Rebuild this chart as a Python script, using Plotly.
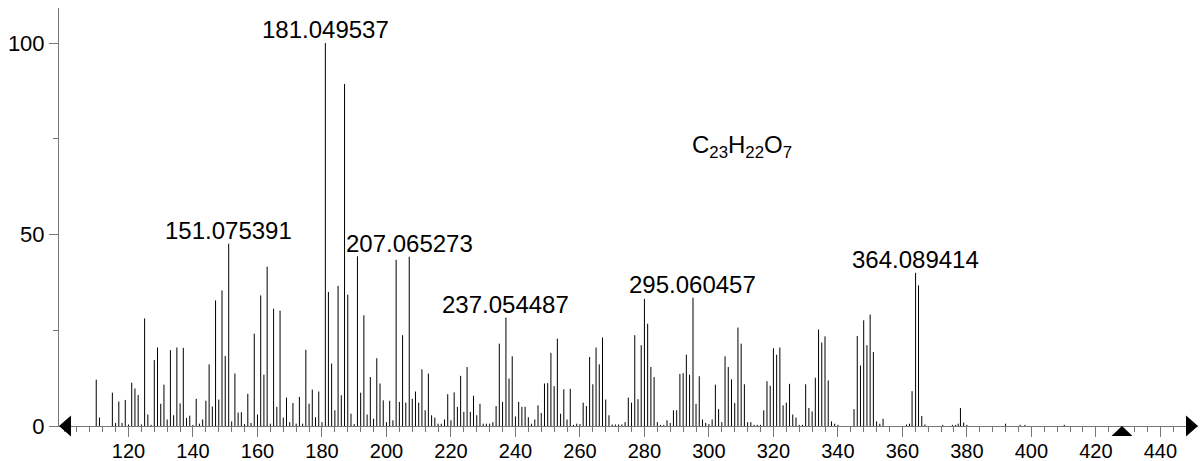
import plotly.graph_objects as go

# ---- data: (m/z, relative intensity) ----
mz = [
    110.0, 111.0, 115.0, 116.0, 117.0, 118.0, 119.0, 120.0, 121.0, 122.0,
    123.0, 124.0, 125.0, 126.0, 127.0, 128.0, 129.0, 130.0, 131.0, 132.0,
    133.0, 134.0, 135.0, 136.0, 137.0, 138.0, 139.0, 140.0, 141.0, 142.0,
    143.0, 144.0, 145.0, 146.0, 147.0, 148.0, 149.0, 150.0, 151.075391, 152.0,
    153.0, 154.0, 155.0, 156.0, 157.0, 158.0, 159.0, 160.0, 161.0, 162.0,
    163.0, 164.0, 165.0, 166.0, 167.0, 168.0, 169.0, 170.0, 171.0, 172.0,
    173.0, 174.0, 175.0, 176.0, 177.0, 178.0, 179.0, 180.0, 181.049537, 182.0,
    183.0, 184.0, 185.0, 186.0, 187.0, 188.0, 189.0, 190.0, 191.0, 192.0,
    193.0, 194.0, 195.0, 196.0, 197.0, 198.0, 199.0, 200.0, 201.0, 202.0,
    203.0, 204.0, 205.0, 206.0, 207.065273, 208.0, 209.0, 210.0, 211.0, 212.0,
    213.0, 214.0, 215.0, 216.0, 217.0, 218.0, 219.0, 220.0, 221.0, 222.0,
    223.0, 224.0, 225.0, 226.0, 227.0, 228.0, 229.0, 230.0, 231.0, 232.0,
    233.0, 234.0, 235.0, 236.0, 237.054487, 238.0, 239.0, 240.0, 241.0, 242.0,
    243.0, 244.0, 245.0, 246.0, 247.0, 248.0, 249.0, 250.0, 251.0, 252.0,
    253.0, 254.0, 255.0, 256.0, 257.0, 258.0, 259.0, 260.0, 261.0, 262.0,
    263.0, 264.0, 265.0, 266.0, 267.0, 268.0, 269.0, 270.0, 271.0, 272.0,
    273.0, 274.0, 275.0, 276.0, 277.0, 278.0, 279.0, 280.0, 281.0, 282.0,
    283.0, 284.0, 285.0, 286.0, 287.0, 288.0, 289.0, 290.0, 291.0, 292.0,
    293.0, 294.0, 295.060457, 296.0, 297.0, 298.0, 299.0, 300.0, 301.0, 302.0,
    303.0, 304.0, 305.0, 306.0, 307.0, 308.0, 309.0, 310.0, 311.0, 312.0,
    313.0, 314.0, 315.0, 316.0, 317.0, 318.0, 319.0, 320.0, 321.0, 322.0,
    323.0, 324.0, 325.0, 326.0, 327.0, 328.0, 329.0, 330.0, 331.0, 332.0,
    333.0, 334.0, 335.0, 336.0, 337.0, 338.0, 339.0, 340.0, 345.0, 346.0,
    347.0, 348.0, 349.0, 350.0, 351.0, 352.0, 353.0, 354.0, 361.3, 362.2,
    363.0, 364.089414, 365.0, 366.0, 367.0, 372.5, 375.5, 376.5, 377.3, 378.0,
    379.0, 380.0, 392.0, 396.5, 398.0, 410.2,
]
intensity = [
    12.1, 2.2, 8.7, 0.8, 6.4, 0.8, 6.8, 0.4, 11.3, 9.8,
    8.1, 0.4, 28.1, 3.0, 0.3, 17.2, 20.5, 5.8, 10.8, 1.7,
    19.8, 2.8, 20.5, 5.9, 20.4, 2.1, 2.7, 0.3, 7.1, 0.6,
    1.7, 6.6, 16.1, 5.1, 32.8, 6.9, 35.4, 18.3, 47.6, 1.2,
    13.7, 3.5, 3.6, 0.5, 8.4, 0.8, 24.1, 3.0, 34.1, 13.4,
    41.6, 0.6, 30.6, 5.0, 30.1, 2.2, 7.4, 1.0, 6.0, 0.6,
    7.6, 0.6, 19.9, 5.8, 9.5, 2.3, 9.0, 1.0, 100.0, 35.0,
    16.3, 4.1, 36.6, 8.0, 89.3, 34.3, 3.2, 0.5, 44.3, 8.7,
    28.9, 3.0, 12.8, 1.9, 17.7, 11.1, 6.7, 1.0, 6.6, 1.5,
    43.4, 6.3, 23.7, 6.1, 44.2, 7.1, 9.0, 6.1, 14.8, 4.1,
    13.7, 2.8, 2.2, 0.6, 0.6, 1.7, 8.3, 1.5, 8.8, 5.0,
    13.1, 3.7, 15.4, 3.7, 7.9, 2.8, 5.8, 0.6, 0.6, 0.6,
    1.0, 5.2, 21.5, 6.3, 28.3, 12.4, 18.2, 2.5, 6.3, 5.0,
    5.0, 2.3, 0.6, 1.7, 5.4, 3.4, 11.1, 11.2, 19.1, 10.4,
    22.8, 3.2, 9.6, 1.7, 9.7, 0.3, 0.6, 0.5, 6.1, 5.2,
    18.0, 10.9, 20.5, 16.1, 23.1, 6.9, 2.8, 0.4, 0.4, 0.4,
    0.4, 1.0, 7.4, 6.1, 23.7, 7.0, 21.1, 33.2, 26.7, 15.4,
    12.8, 1.0, 0.3, 0.3, 1.5, 0.8, 4.1, 4.1, 13.6, 13.8,
    18.6, 13.4, 33.5, 5.8, 13.0, 1.7, 0.8, 0.5, 1.7, 10.8,
    4.4, 1.0, 18.2, 15.4, 12.2, 6.0, 25.7, 21.5, 10.9, 1.0,
    1.0, 0.3, 0.3, 0.3, 4.1, 11.7, 10.5, 20.3, 18.6, 20.5,
    5.4, 6.1, 11.0, 3.0, 2.2, 0.3, 0.3, 10.9, 4.7, 3.8,
    12.6, 25.2, 21.8, 23.4, 11.9, 1.2, 0.6, 0.3, 4.4, 23.5,
    15.8, 27.6, 21.1, 29.1, 19.3, 1.2, 0.6, 1.9, 0.4, 0.6,
    9.1, 40.0, 36.7, 2.6, 0.4, 0.3, 0.3, 0.3, 0.6, 4.7,
    0.9, 0.3, 0.6, 0.3, 0.3, 0.3,
]
labeled_mz = [151.075391, 181.049537, 207.065273, 237.054487, 295.060457, 364.089414]
precursor_mz = 428.1
formula = "C<sub>23</sub>H<sub>22</sub>O<sub>7</sub>"
x_ticks = [120, 140, 160, 180, 200, 220, 240, 260, 280, 300, 320, 340, 360, 380, 400, 420, 440]
y_ticks = [0, 50, 100]
x_range = [98.45, 451.67]
y_range = [0, 109.14]

FONT = "Liberation Sans, Arial, Helvetica, sans-serif"
AXIS_COLOR = "#777777"

# stick spectrum as vertical segments
xs, ys = [], []
for m, v in zip(mz, intensity):
    xs += [m, m, None]
    ys += [0, v, None]

fig = go.Figure()
fig.add_trace(go.Scatter(x=xs, y=ys, mode="lines",
                         line=dict(color="black", width=1),
                         hoverinfo="skip", showlegend=False))

annotations = []
for m in labeled_mz:
    v = intensity[mz.index(m)]
    annotations.append(dict(x=m, y=v, text=f"{m:.6f}", showarrow=False,
                            xanchor="center", yanchor="bottom", yshift=-2,
                            font=dict(family=FONT, size=24, color="black")))
annotations.append(dict(x=310.3, y=73, text=formula, showarrow=False,
                        xanchor="center", yanchor="middle",
                        font=dict(family=FONT, size=24, color="black")))

pw = 1200 - 59 - 2
ph = 461 - 8 - 35
ax_len = 12 / pw
ax_half = 10.5 / ph
shapes = [
    # left arrow head
    dict(type="path", xref="paper", yref="paper", layer="above",
         path=f"M 0,0 L {ax_len},{ax_half} L {ax_len},{-ax_half} Z",
         fillcolor="black", line=dict(width=0)),
    # right arrow head
    dict(type="path", xref="paper", yref="paper", layer="above",
         path=f"M 1,0 L {1-ax_len},{ax_half} L {1-ax_len},{-ax_half} Z",
         fillcolor="black", line=dict(width=0)),
    # precursor marker
    dict(type="path", xref="x", yref="paper", layer="above",
         path=f"M {precursor_mz-3.26},{-10/ph} L {precursor_mz+3.26},{-10/ph} L {precursor_mz},0 Z",
         fillcolor="black", line=dict(width=0)),
]

fig.update_layout(
    width=1200, height=461,
    margin=dict(l=59, r=2, t=8, b=35, autoexpand=False),
    paper_bgcolor="white", plot_bgcolor="white",
    annotations=annotations, shapes=shapes,
    font=dict(family=FONT, size=22, color="black"),
    xaxis=dict(range=x_range, showline=True, linecolor=AXIS_COLOR, linewidth=1,
               automargin=False,
               ticks="outside", ticklen=10, tickcolor=AXIS_COLOR, tickwidth=1,
               tickmode="array", tickvals=x_ticks, ticktext=[str(t) for t in x_ticks],
               tickfont=dict(family=FONT, size=20, color="black"),
               ticklabelstandoff=-3,
               showgrid=False, zeroline=False,
               minor=dict(tickmode="linear", tick0=0, dtick=4, ticks="outside",
                          ticklen=5, tickcolor=AXIS_COLOR, showgrid=False)),
    yaxis=dict(range=y_range, showline=True, linecolor=AXIS_COLOR, linewidth=1,
               automargin=False,
               ticks="outside", ticklen=9, tickcolor=AXIS_COLOR, tickwidth=1,
               tickmode="array", tickvals=y_ticks, ticktext=[str(t) for t in y_ticks],
               tickfont=dict(family=FONT, size=22, color="black"),
               showgrid=False, zeroline=False,
               minor=dict(tickmode="linear", tick0=0, dtick=25, ticks="outside",
                          ticklen=5, tickcolor=AXIS_COLOR, showgrid=False)),
)

fig.write_html("out.html",
               config={"displayModeBar": False},
               post_script="document.body.style.margin='0px';document.body.style.overflow='hidden';")
